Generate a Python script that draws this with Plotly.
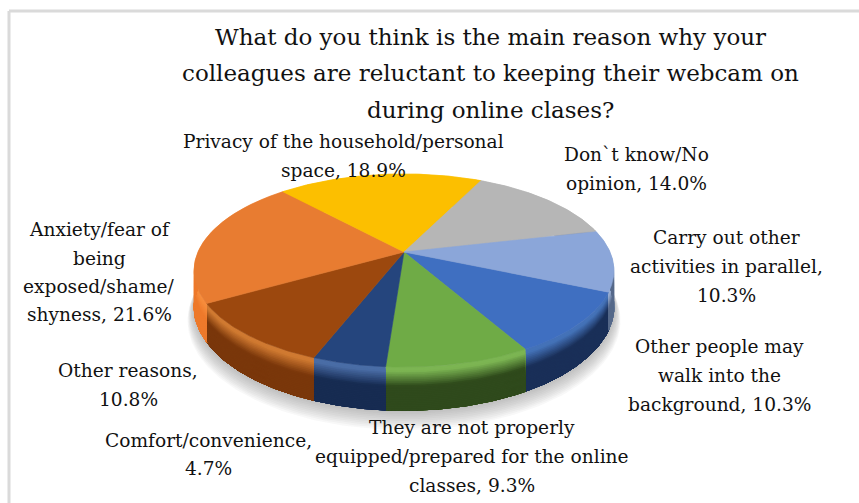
import numpy as np
import plotly.graph_objects as go

# ---- data ----
categories = ["Other people may walk into the background", "They are not properly equipped/prepared for the online classes",
              "Comfort/convenience", "Other reasons", "Anxiety/fear of being exposed/shame/shyness",
              "Privacy of the household/personal space", "Don`t know/No opinion", "Carry out other activities in parallel"]
values = [10.3, 9.3, 4.7, 10.8, 21.6, 18.9, 14.0, 10.3]
title_lines = ["What do you think is the main reason why your",
               "colleagues are reluctant to keeping their webcam on",
               "during online clases?"]
label_lines = [["Other people may", "walk into the", "background, 10.3%"],
               ["They are not properly", "equipped/prepared for the online", "classes, 9.3%"],
               ["Comfort/convenience,", "4.7%"],
               ["Other reasons,", "10.8%"],
               ["Anxiety/fear of", "being", "exposed/shame/", "shyness, 21.6%"],
               ["Privacy of the household/personal", "space, 18.9%"],
               ["Don`t know/No", "opinion, 14.0%"],
               ["Carry out other", "activities in parallel,", "10.3%"]]

# ---- styles and layout ----
W, H = 859, 503
top_colors = ["#3F6FC1", "#6FAB46", "#25457D", "#9C480E", "#E87C31", "#FCBF00", "#B6B6B6", "#8BA6D9"]
bevel_colors = ["#4472B8", "#7CB553", "#4A6DA6", "#D07A32", "#F78D3D", "#FCBF00", "#B6B6B6", "#9BB0D4"]
side_colors = ["#1A2F58", "#2F4A1C", "#172C52", "#7A370B", "#EE7A2C", "#E0A800", "#999999", "#56698A"]
label_pos = [(719, [346, 375, 404]), (472, [427, 456, 485]), (208, [440, 468]), (128, [370, 399]),
             (99, [229, 258, 286, 314]), (343, [141, 170]), (636, [154, 183]), (726, [237, 266, 295])]
title_y = [37, 73, 110]
CX, CY, A, B, P, DEPTH = 404, 252, 206, 93, 0.192, 35
START_DEG = 113.5


def project(theta, t=0.0, scale=1.0):
    u, v = scale * np.sin(theta), scale * np.cos(theta)
    w = 1 + P * v
    return CX + A * u / w, CY - B * v / w + DEPTH * t / w


def hex2rgb(c):
    return np.array([int(c[i:i + 2], 16) for i in (1, 3, 5)], float)


def mix(c1, c2, f):
    r = hex2rgb(c1) * (1 - f) + hex2rgb(c2) * f
    return "rgb(%d,%d,%d)" % tuple(r)


fracs = np.array(values) / sum(values)
edges = np.radians(START_DEG) + 2 * np.pi * np.concatenate([[0], np.cumsum(fracs)])
fig = go.Figure()


def poly(x, y, color, name="", hover=False, lw=0.6):
    fig.add_trace(go.Scatter(x=x, y=y, mode="lines", fill="toself", fillcolor=color,
                             line=dict(color=color if lw else "rgba(0,0,0,0)", width=lw), name=name,
                             hoverinfo="name" if hover else "skip", showlegend=False))


# soft shadow: large faint layers first, each smaller one adds to the darkness
ring = np.linspace(0, 2 * np.pi, 241)
for i in range(12):
    f = i / 11
    sx, sy = project(ring, 1.34 - 0.34 * f, 1.03 - 0.03 * f)
    poly(sx, sy, "rgba(110,110,110,0.05)", lw=0)
# wall: each band runs down to the base, so later bands cover earlier ones with no seams
bands = np.linspace(0, 1, 25)
for k in range(len(values)):
    th = np.linspace(edges[k], edges[k + 1], 60)
    for j in range(len(bands) - 1):
        t0 = bands[j]
        mid = (t0 + bands[j + 1]) / 2
        f = min(max(mid - 0.1, 0) / 0.35, 1)
        col = mix(bevel_colors[k], side_colors[k], f)
        x0, y0 = project(th, t0)
        x1, y1 = project(th, 1.0)
        poly(np.r_[x0, x1[::-1]], np.r_[y0, y1[::-1]], col, lw=0.4)
# top
for k, name in enumerate(categories):
    th = np.linspace(edges[k], edges[k + 1], 80)
    x, y = project(th)
    poly(np.r_[CX, x, CX], np.r_[CY, y, CY], top_colors[k], name, True)

anns = []
for line, y in zip(title_lines, title_y):
    anns.append(dict(x=490, y=y, text=line, font=dict(size=23, color="#111111")))
for lines, (x, ys) in zip(label_lines, label_pos):
    for line, y in zip(lines, ys):
        anns.append(dict(x=x, y=y, text=line, font=dict(size=18.6, color="#111111")))
for a in anns:
    a.update(showarrow=False, xanchor="center", yanchor="middle", xref="x", yref="y")

shapes = [dict(type="line", xref="x", yref="y", x0=9, x1=9, y0=11, y1=H, line=dict(color="#DADADA", width=3), layer="below"),
          dict(type="line", xref="x", yref="y", x0=9, x1=W, y0=11, y1=11, line=dict(color="#DADADA", width=3), layer="below")]

fig.update_layout(width=W, height=H, margin=dict(l=0, r=0, t=0, b=0), paper_bgcolor="white", plot_bgcolor="white",
                  font=dict(family="DejaVu Serif"), showlegend=False, annotations=anns, shapes=shapes,
                  xaxis=dict(range=[0, W], visible=False, fixedrange=True),
                  yaxis=dict(range=[H, 0], visible=False, fixedrange=True))
fig.write_html("out.html", config=dict(displayModeBar=False),
               post_script="document.body.style.margin='0';document.documentElement.style.overflow='hidden';")
